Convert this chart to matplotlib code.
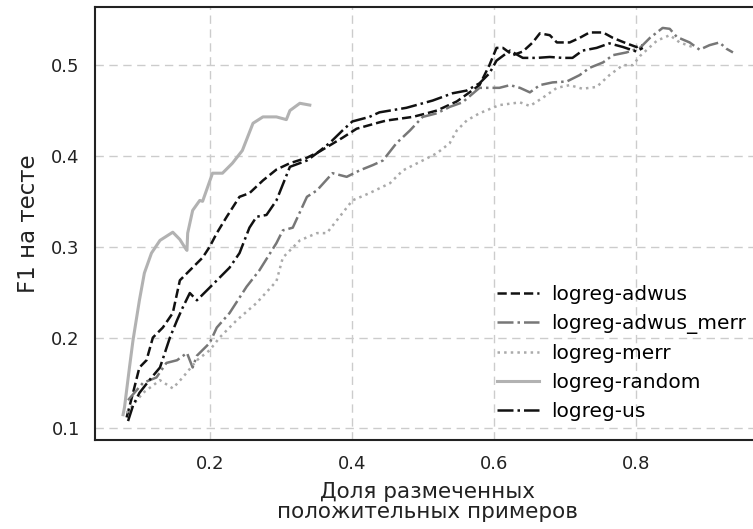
import matplotlib
matplotlib.use("Agg")
import matplotlib.pyplot as plt

# values
adwus_x = [0.083, 0.092, 0.101, 0.111, 0.120, 0.134, 0.148, 0.158, 0.172, 0.190, 0.200, 0.210,
           0.224, 0.242, 0.256, 0.275, 0.294, 0.313, 0.337, 0.355, 0.387, 0.407, 0.439, 0.449,
           0.486, 0.506, 0.520, 0.548, 0.566, 0.580, 0.594, 0.604, 0.613, 0.627, 0.641, 0.655,
           0.665, 0.679, 0.689, 0.707, 0.721, 0.735, 0.754, 0.768, 0.787, 0.801, 0.810]
adwus_y = [0.112, 0.139, 0.167, 0.175, 0.200, 0.211, 0.227, 0.263, 0.274, 0.288, 0.300, 0.315,
           0.333, 0.355, 0.359, 0.373, 0.385, 0.392, 0.398, 0.405, 0.420, 0.430, 0.437, 0.439,
           0.443, 0.447, 0.450, 0.460, 0.470, 0.478, 0.500, 0.519, 0.519, 0.511, 0.515, 0.525,
           0.535, 0.533, 0.525, 0.525, 0.530, 0.536, 0.536, 0.530, 0.524, 0.520, 0.522]

adwus_merr_x = [0.085, 0.106, 0.125, 0.139, 0.154, 0.168, 0.176, 0.182, 0.200, 0.210, 0.228, 0.252,
                0.270, 0.294, 0.303, 0.317, 0.337, 0.351, 0.373, 0.393, 0.411, 0.430, 0.444, 0.463,
                0.482, 0.500, 0.520, 0.538, 0.556, 0.580, 0.608, 0.623, 0.637, 0.651, 0.665, 0.683,
                0.703, 0.721, 0.735, 0.754, 0.768, 0.787, 0.806, 0.820, 0.838, 0.848, 0.858, 0.876,
                0.890, 0.904, 0.918, 0.928, 0.937]
adwus_merr_y = [0.131, 0.150, 0.156, 0.172, 0.175, 0.183, 0.167, 0.180, 0.194, 0.211, 0.227, 0.256,
                0.274, 0.304, 0.318, 0.321, 0.355, 0.362, 0.381, 0.377, 0.384, 0.390, 0.395, 0.414,
                0.428, 0.443, 0.447, 0.454, 0.459, 0.475, 0.475, 0.478, 0.475, 0.470, 0.478, 0.481,
                0.482, 0.489, 0.497, 0.503, 0.511, 0.514, 0.519, 0.530, 0.541, 0.540, 0.531, 0.525,
                0.517, 0.522, 0.525, 0.518, 0.514]

merr_x = [0.083, 0.106, 0.130, 0.148, 0.162, 0.182, 0.200, 0.214, 0.238, 0.266, 0.294, 0.303,
          0.327, 0.351, 0.365, 0.379, 0.401, 0.425, 0.454, 0.472, 0.500, 0.520, 0.538, 0.548,
          0.562, 0.580, 0.608, 0.637, 0.651, 0.669, 0.689, 0.707, 0.725, 0.745, 0.763, 0.782,
          0.796, 0.806, 0.830, 0.848, 0.862, 0.880]
merr_y = [0.117, 0.139, 0.153, 0.144, 0.156, 0.175, 0.186, 0.200, 0.219, 0.238, 0.262, 0.288,
          0.307, 0.315, 0.315, 0.329, 0.351, 0.359, 0.370, 0.384, 0.395, 0.403, 0.414, 0.428,
          0.439, 0.447, 0.456, 0.459, 0.455, 0.464, 0.475, 0.478, 0.474, 0.476, 0.489, 0.500,
          0.500, 0.510, 0.527, 0.533, 0.525, 0.520]

random_x = [0.078, 0.080, 0.087, 0.092, 0.101, 0.108, 0.118, 0.130, 0.148, 0.158, 0.166, 0.168,
            0.169, 0.176, 0.186, 0.190, 0.204, 0.218, 0.232, 0.246, 0.261, 0.275, 0.294, 0.308,
            0.313, 0.327, 0.341]
random_y = [0.115, 0.123, 0.167, 0.197, 0.241, 0.271, 0.293, 0.307, 0.316, 0.308, 0.298, 0.296,
            0.315, 0.340, 0.351, 0.350, 0.381, 0.381, 0.392, 0.406, 0.436, 0.443, 0.443, 0.440,
            0.450, 0.458, 0.456]

us_x = [0.085, 0.092, 0.101, 0.115, 0.130, 0.144, 0.154, 0.162, 0.172, 0.182, 0.200, 0.214,
        0.228, 0.242, 0.256, 0.266, 0.280, 0.294, 0.313, 0.337, 0.351, 0.370, 0.387, 0.401,
        0.425, 0.439, 0.477, 0.514, 0.542, 0.562, 0.580, 0.594, 0.604, 0.623, 0.641, 0.661,
        0.679, 0.697, 0.711, 0.725, 0.745, 0.763, 0.782, 0.801, 0.810]
us_y = [0.108, 0.125, 0.139, 0.153, 0.167, 0.200, 0.219, 0.233, 0.249, 0.241, 0.255, 0.266,
        0.277, 0.293, 0.321, 0.333, 0.335, 0.351, 0.388, 0.395, 0.403, 0.415, 0.428, 0.438,
        0.443, 0.448, 0.453, 0.461, 0.469, 0.472, 0.480, 0.491, 0.505, 0.516, 0.508, 0.508,
        0.509, 0.508, 0.508, 0.516, 0.519, 0.524, 0.520, 0.515, 0.519]

x_ticks = [0.2, 0.4, 0.6, 0.8]
y_ticks = [0.1, 0.2, 0.3, 0.4, 0.5]

plt.rcParams["font.family"] = ["DejaVu Sans"]

fig = plt.figure(figsize=(7.53, 5.29), dpi=100)
ax = fig.add_axes([0.1262, 0.168, 0.8830, 0.8187])

ax.plot(adwus_x, adwus_y, color="#111111", linestyle="--", linewidth=1.8, label="logreg-adwus")
ax.plot(adwus_merr_x, adwus_merr_y, color="#777777", linestyle="-.", linewidth=1.8, label="logreg-adwus_merr")
ax.plot(merr_x, merr_y, color="#aaaaaa", linestyle=":", linewidth=1.8, label="logreg-merr")
ax.plot(random_x, random_y, color="#b2b2b2", linestyle="-", linewidth=2.2, label="logreg-random")
ax.plot(us_x, us_y, color="#111111", linestyle="-.", linewidth=1.8, label="logreg-us")

ax.set_xlim(0.0385, 0.975)
ax.set_ylim(0.087, 0.564)
ax.set_xticks(x_ticks)
ax.set_yticks(y_ticks)
ax.set_xticklabels([str(v) for v in x_ticks])
ax.set_yticklabels([str(v) for v in y_ticks])
ax.tick_params(length=0, labelsize=13, pad=11, labelcolor="#222222")

ax.grid(True, color="#cccccc", linestyle=(0, (6, 4)), linewidth=1.0)
ax.set_axisbelow(True)
for s in ax.spines.values():
    s.set_color("#222222")
    s.set_linewidth(1.5)

ax.set_xlabel("Доля размеченных\nположительных примеров", fontsize=15.5, labelpad=6,
              linespacing=1.02, color="#222222")
ax.set_ylabel("F1 на тесте", fontsize=16.5, labelpad=8, color="#222222")

ax.legend(loc="center left", bbox_to_anchor=(0.6045, 0.201), frameon=False, fontsize=14.5,
          handlelength=2.1, handletextpad=0.6, labelspacing=0.5,
          borderpad=0, borderaxespad=0)

fig.savefig("out.png", dpi=100)
